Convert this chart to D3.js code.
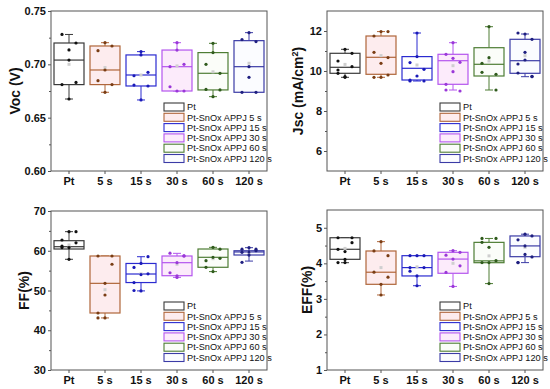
<!DOCTYPE html>
<html>
<head>
<meta charset="utf-8">
<script src="https://cdn.jsdelivr.net/npm/d3@7"></script>
<style>
  body { margin: 0; background: #fff; }
  text { font-family: Arial, "Liberation Sans", sans-serif; }
</style>
</head>
<body>
<script>
// categories and legend entries
var categories = ["Pt", "5 s", "15 s", "30 s", "60 s", "120 s"];
var legendNames = ["Pt", "Pt-SnOx APPJ 5 s", "Pt-SnOx APPJ 15 s", "Pt-SnOx APPJ 30 s",
    "Pt-SnOx APPJ 60 s", "Pt-SnOx APPJ 120 s"];
var strokeColors = ["#3a3a3a", "#b0663a", "#2b2bd0", "#b455ee", "#4e7d34", "#3b3ba6"];
var dotColors = ["#111111", "#7a3d14", "#1a1ab8", "#9a38d8", "#2f5a1c", "#1f1f80"];
var fillColors = ["#ffffff", "#fdecee", "#ffffff", "#fcebfb", "#fbfdf9", "#fbfcff"];

// box stats per group: [whisker low, q1, median, q3, whisker high, mean]
var vocBox = [
    [0.6675, 0.681, 0.704, 0.720, 0.728, 0.700],
    [0.6738, 0.681, 0.6947, 0.7172, 0.7203, 0.697],
    [0.6666, 0.6797, 0.690, 0.7088, 0.7119, 0.690],
    [0.675, 0.675, 0.6978, 0.7134, 0.7203, 0.6985],
    [0.6697, 0.676, 0.6916, 0.711, 0.7197, 0.693],
    [0.6738, 0.6738, 0.6978, 0.7222, 0.7297, 0.701]
];
var vocPoints = [
    [0.7135, 0.728, 0.720, 0.704, 0.681, 0.683, 0.6675],
    [0.7203, 0.7128, 0.7172, 0.6947, 0.6847, 0.681, 0.6738],
    [0.712, 0.6893, 0.6925, 0.7088, 0.6806, 0.6797, 0.6666],
    [0.7203, 0.679, 0.675, 0.7134, 0.6978, 0.700, 0.675],
    [0.7197, 0.6765, 0.676, 0.711, 0.700, 0.6916, 0.6697],
    [0.7297, 0.7232, 0.7213, 0.6978, 0.6738, 0.6738, 0.6878]
];

var jscBox = [
    [9.685, 9.885, 10.185, 10.885, 11.085, 10.33],
    [9.685, 9.835, 10.685, 11.75, 11.97, 10.77],
    [9.5, 9.55, 10.135, 10.72, 11.9, 10.3],
    [9.05, 9.335, 10.515, 10.835, 11.415, 10.265],
    [9.05, 9.75, 10.335, 11.165, 12.215, 10.5],
    [9.715, 9.885, 10.515, 11.585, 11.85, 10.765]
];
var jscPoints = [
    [11.085, 10.5, 10.885, 9.685, 10.05, 10.215, 9.715, 9.885],
    [11.97, 11.75, 11.97, 10.385, 10.935, 10.67, 9.685, 9.685, 9.8],
    [11.9, 10.42, 10.085, 10.72, 9.55, 9.5, 9.75, 9.5],
    [11.415, 10.835, 10.435, 10.635, 9.335, 9.0, 9.965, 9.05],
    [12.215, 9.935, 9.835, 10.665, 10.385, 9.05],
    [11.85, 11.9, 11.585, 10.935, 9.9, 9.735, 10.55, 10.35, 9.715]
];

var ffBox = [
    [57.85, 60.44, 61.02, 62.53, 64.8, 61.45],
    [43.1, 44.34, 51.8, 58.68, 58.68, 50.2],
    [49.9, 52.0, 54.15, 56.8, 58.5, 54.2],
    [53.3, 53.72, 57.0, 58.68, 59.35, 56.6],
    [54.75, 55.84, 58.35, 60.44, 60.86, 58.0],
    [57.4, 58.93, 59.7, 60.0, 60.77, 59.6]
];
var ffPoints = [
    [64.8, 62.7, 62.0, 60.8, 61.2, 64.8, 57.85, 60.8],
    [51.8, 58.68, 58.68, 48.87, 44.34, 56.6, 43.1, 43.1],
    [54.0, 55.8, 58.5, 56.8, 50.0, 54.2, 49.9, 52.0],
    [57.0, 59.4, 58.7, 53.7, 54.47, 58.7, 53.3],
    [60.86, 57.5, 60.4, 58.35, 55.84, 58.1, 54.75],
    [60.77, 60.4, 60.4, 59.7, 59.6, 60.0, 58.9, 57.1]
];

var effBox = [
    [4.018, 4.113, 4.395, 4.72, 4.72, 4.42],
    [3.11, 3.41, 3.75, 4.347, 4.61, 3.88],
    [3.37, 3.645, 3.88, 4.215, 4.215, 3.9],
    [3.35, 3.72, 4.12, 4.31, 4.355, 4.0],
    [3.43, 4.018, 4.07, 4.59, 4.70, 4.21],
    [4.02, 4.187, 4.49, 4.77, 4.82, 4.45]
];
var effPoints = [
    [4.33, 4.72, 4.72, 4.02, 4.395, 4.58, 4.11, 4.02],
    [4.61, 4.35, 4.215, 3.11, 3.75, 3.61, 3.41],
    [4.215, 3.88, 4.215, 3.645, 3.78, 3.88, 3.37, 4.215],
    [4.355, 4.23, 4.31, 4.12, 3.745, 3.93, 3.35],
    [4.45, 4.59, 4.7, 4.02, 4.02, 4.075, 3.43, 4.7],
    [4.82, 4.66, 4.77, 4.49, 4.02, 4.18, 4.25, 4.02]
];

var vocTicks = [0.60, 0.65, 0.70, 0.75];
var jscTicks = [6, 8, 10, 12];
var ffTicks = [30, 40, 50, 60, 70];
var effTicks = [1, 2, 3, 4, 5];

var svg = d3.select("body").append("svg")
    .attr("width", 550)
    .attr("height", 389);

function drawPanel(p) {
    var g = svg.append("g").attr("class", "panel");

    var x = d3.scaleBand()
        .domain(categories)
        .range([p.left, p.right]);

    var y = d3.scaleLinear()
        .domain(p.domain)
        .range([p.bottom, p.top]);

    // plot frame
    g.append("rect")
        .attr("x", p.left)
        .attr("y", p.top)
        .attr("width", p.right - p.left)
        .attr("height", p.bottom - p.top)
        .style("fill", "none")
        .style("stroke", "#555")
        .style("stroke-width", 1);

    // minor ticks (half steps)
    var step = p.ticks[1] - p.ticks[0];
    var minor = p.ticks.map(function (t) { return t + step / 2; })
        .filter(function (t) { return t < p.domain[1]; });
    var minorAxis = d3.axisLeft(y).tickValues(minor).tickSize(2).tickFormat("");
    g.append("g")
        .attr("transform", "translate(" + p.left + ",0)")
        .call(minorAxis)
        .call(function (s) { s.select(".domain").remove(); })
        .selectAll("line").style("stroke", "#555");

    var yAxis = d3.axisLeft(y)
        .tickValues(p.ticks)
        .tickSize(3)
        .tickPadding(2)
        .tickFormat(p.format);
    var ya = g.append("g")
        .attr("transform", "translate(" + p.left + ",0)")
        .call(yAxis);
    ya.select(".domain").remove();
    ya.selectAll("line").style("stroke", "#555");
    ya.selectAll("text")
        .style("font-size", "11px")
        .style("font-weight", "bold")
        .style("fill", "#111");

    var xAxis = d3.axisBottom(x).tickSize(3).tickPadding(3);
    var xa = g.append("g")
        .attr("transform", "translate(0," + p.bottom + ")")
        .call(xAxis);
    xa.select(".domain").remove();
    xa.selectAll("line").style("stroke", "#555");
    xa.selectAll("text")
        .style("font-size", "11px")
        .style("font-weight", "bold")
        .style("fill", "#111");

    // axis title
    var title = g.append("text")
        .attr("transform", "translate(" + p.titleX + "," + ((p.top + p.bottom) / 2) + ") rotate(-90)")
        .attr("text-anchor", "middle")
        .attr("dy", "0.35em")
        .style("font-size", "14px")
        .style("font-weight", "bold")
        .style("fill", "#111");
    p.title(title);

    var bw = 30;
    var groups = g.selectAll(".box")
        .data(p.box)
        .enter()
        .append("g")
        .attr("class", "box");

    groups.each(function (d, i) {
        var grp = d3.select(this);
        var cx = x(categories[i]) + x.bandwidth() / 2;
        var col = strokeColors[i];

        // whiskers
        grp.append("line")
            .attr("x1", cx).attr("x2", cx)
            .attr("y1", y(d[0])).attr("y2", y(d[1]))
            .style("stroke", col);
        grp.append("line")
            .attr("x1", cx).attr("x2", cx)
            .attr("y1", y(d[3])).attr("y2", y(d[4]))
            .style("stroke", col);
        [d[0], d[4]].forEach(function (v) {
            grp.append("line")
                .attr("x1", cx - 4).attr("x2", cx + 4)
                .attr("y1", y(v)).attr("y2", y(v))
                .style("stroke", col);
        });

        grp.append("rect")
            .attr("x", cx - bw / 2)
            .attr("y", y(d[3]))
            .attr("width", bw)
            .attr("height", y(d[1]) - y(d[3]))
            .style("fill", fillColors[i])
            .style("stroke", col)
            .style("stroke-width", 1.2);

        grp.append("line")
            .attr("x1", cx - bw / 2).attr("x2", cx + bw / 2)
            .attr("y1", y(d[2])).attr("y2", y(d[2]))
            .style("stroke", col)
            .style("stroke-width", 1.2);

        // mean marker
        grp.append("rect")
            .attr("x", cx - 1.5)
            .attr("y", y(d[5]) - 1.5)
            .attr("width", 3)
            .attr("height", 3)
            .style("fill", "#cfcfcf");

        // data points, jittered left / centre / right
        grp.selectAll(".pt")
            .data(p.points[i])
            .enter()
            .append("circle")
            .attr("class", "pt")
            .attr("cx", function (v, j) { return cx + [0, -7, 7][j % 3]; })
            .attr("cy", function (v) { return y(v); })
            .attr("r", 1.6)
            .style("fill", dotColors[i]);
    });

    // legend
    var lx = p.right - 103;
    var ly = p.bottom - 64;
    var leg = g.selectAll(".legend")
        .data(legendNames)
        .enter()
        .append("g")
        .attr("class", "legend")
        .attr("transform", function (d, i) {
            return "translate(" + lx + "," + (ly + i * 10.3) + ")";
        });
    leg.append("rect")
        .attr("x", 0)
        .attr("y", -4)
        .attr("width", 20)
        .attr("height", 8)
        .style("fill", function (d, i) { return fillColors[i]; })
        .style("stroke", function (d, i) { return strokeColors[i]; })
        .style("stroke-width", 1.1);
    leg.append("text")
        .attr("x", 23)
        .attr("dy", "0.35em")
        .style("font-size", "9.2px")
        .style("fill", "#111")
        .text(function (d) { return d; });
}

drawPanel({
    left: 51, right: 267, top: 11, bottom: 171,
    domain: [0.60, 0.75], ticks: vocTicks, format: d3.format(".2f"),
    box: vocBox, points: vocPoints, titleX: 15,
    title: function (t) { t.text("Voc (V)"); }
});

drawPanel({
    left: 327, right: 543, top: 11, bottom: 171,
    domain: [5, 13], ticks: jscTicks, format: d3.format("d"),
    box: jscBox, points: jscPoints, titleX: 298,
    title: function (t) {
        t.append("tspan").text("Jsc (mA/cm");
        t.append("tspan").attr("baseline-shift", "super").style("font-size", "9px").text("2");
        t.append("tspan").text(")");
    }
});

drawPanel({
    left: 51, right: 267, top: 211, bottom: 370,
    domain: [30, 70], ticks: ffTicks, format: d3.format("d"),
    box: ffBox, points: ffPoints, titleX: 24,
    title: function (t) { t.text("FF(%)"); }
});

drawPanel({
    left: 327, right: 543, top: 210, bottom: 370,
    domain: [1, 5.5], ticks: effTicks, format: d3.format("d"),
    box: effBox, points: effPoints, titleX: 307,
    title: function (t) { t.text("EFF(%)"); }
});
</script>
</body>
</html>
